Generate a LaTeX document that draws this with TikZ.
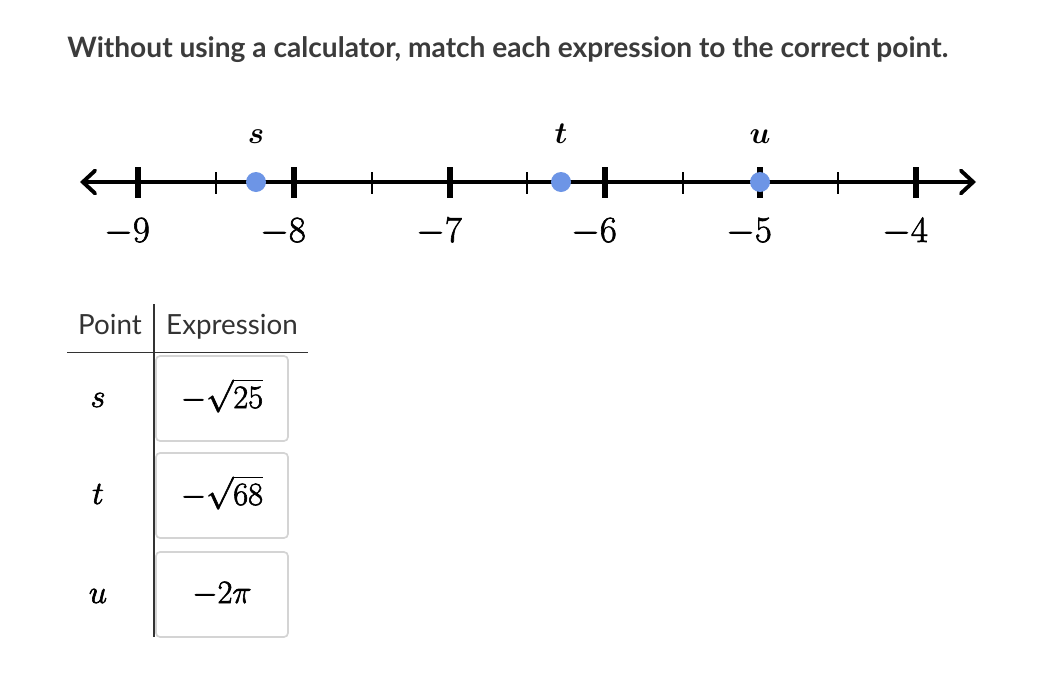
\RequirePackage{fix-cm}
\documentclass[tikz,border=0pt]{standalone}
\usepackage{fontspec}
\usepackage{amsmath}
\usetikzlibrary{arrows.meta}
\newfontfamily\lato{Lato}
\definecolor{dotblue}{RGB}{109,149,230}
\definecolor{inkgray}{RGB}{59,59,59}
\definecolor{rulegray}{RGB}{51,51,51}
\definecolor{boxgray}{RGB}{212,212,212}
% slightly heavier glyphs: fill and stroke the text
\newcommand{\heavy}[1]{\special{pdf:literal q 2 Tr 0.35 w}#1\special{pdf:literal Q}}

\begin{document}
\begin{tikzpicture}[x=0.02cm,y=-0.02cm,
	axisline/.style={line width=2.2pt,{Straight Barb[length=7pt,width=13pt,line cap=round]}-{Straight Barb[length=7pt,width=13pt,line cap=round]}},
	majortick/.style={line width=3.2pt},
	minortick/.style={line width=1.1pt},
	ptdot/.style={fill=dotblue,draw=none},
	numlabel/.style={anchor=base,inner sep=0pt,font=\fontsize{21}{25}\selectfont},
	ptlabel/.style={anchor=base,inner sep=0pt,font=\fontsize{17.5}{21}\selectfont},
	headtext/.style={anchor=base,inner sep=0pt,text=rulegray,font=\fontsize{15.8}{18}\selectfont\lato},
	tablerule/.style={draw=rulegray,line width=0.95pt},
	exprbox/.style={draw=boxgray,line width=0.95pt,rounded corners=0.08cm},
	exprtext/.style={anchor=base,inner sep=0pt,font=\fontsize{18.5}{22}\selectfont}]
	%%%%% FRAME %%%%%
	\useasboundingbox[fill=white] (0,0) rectangle (1062,700);
	
	%%%%% TITLE %%%%%
	\node[anchor=base west,inner sep=0pt,text=inkgray,font=\fontsize{16}{19}\selectfont\lato\bfseries] (title) at (67,57)
		{Without using a calculator, match each expression to the correct point.};
	
	%%%%% NUMBER LINE %%%%%
	\draw[axisline] (80,182) -- (976,182);
	\foreach \xx/\val in {138/9,294/8,450/7,605/6,760/5,916/4}{
		\draw[majortick] (\xx,167) -- (\xx,198);
		\node[numlabel] (lab\val) at (\xx-11,242) {\heavy{$-\val$}};
	}
	\foreach \xx in {216,372,527,683,838}
		\draw[minortick] (\xx,172) -- (\xx,194);
	
	\fill[ptdot] (256,182) circle (10);
	\fill[ptdot] (561,182) circle (10);
	\fill[ptdot] (760,182) circle (10);
	\node[ptlabel] (ptS) at (256,143) {$\boldsymbol{s}$};
	\node[ptlabel] (ptT) at (561,143) {$\boldsymbol{t}$};
	\node[ptlabel] (ptU) at (760,143) {$\boldsymbol{u}$};
	
	%%%%% TABLE %%%%%
	\node[headtext] (headPoint) at (110,334) {Point};
	\node[headtext] (headExpr) at (232,334) {Expression};
	\draw[tablerule] (67,352.5) -- (308,352.5);
	\draw[tablerule] (154,304) -- (154,637);
	
	\draw[exprbox] (156,356) rectangle (288,441);
	\draw[exprbox] (156,453) rectangle (288,538);
	\draw[exprbox] (156,552) rectangle (288,637);
	
	\node[exprtext] (rowS) at (98,407) {\heavy{$s$}};
	\node[exprtext] (rowT) at (98,504) {\heavy{$t$}};
	\node[exprtext] (rowU) at (98,603) {\heavy{$u$}};
	\node[exprtext] (exprS) at (222,408) {\heavy{$-\sqrt{25}$}};
	\node[exprtext] (exprT) at (222,505) {\heavy{$-\sqrt{68}$}};
	\node[exprtext] (exprU) at (222,603) {\heavy{$-2\pi$}};
\end{tikzpicture}
\end{document}
